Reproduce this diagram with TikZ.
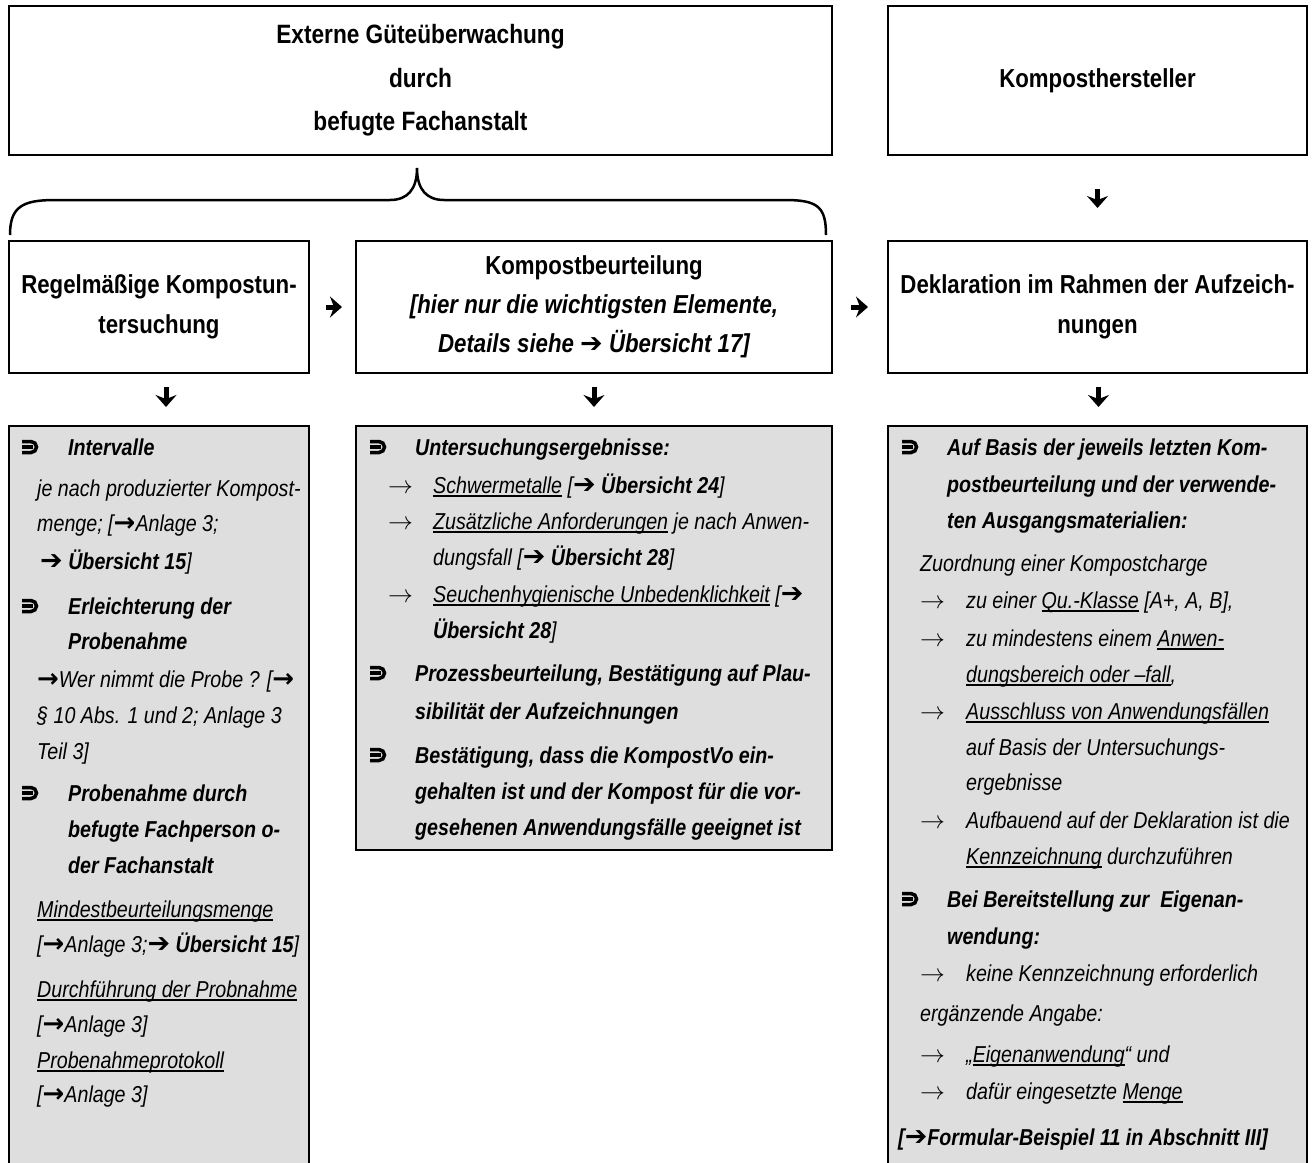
\documentclass[tikz,border=0pt]{standalone}
\usepackage{fontspec}
\setmainfont{Liberation Sans}[FakeStretch=0.855]
\newfontfamily\dv{DejaVu Sans}
\usetikzlibrary{arrows.meta}
\definecolor{listgray}{RGB}{222,222,222}
\newcommand\undl[1]{\setbox0\hbox{#1}\rlap{\rule[-3.5pt]{\wd0}{1.5pt}}\box0\relax}
\newcommand\harr{{\dv\fontsize{27}{27}\selectfont ➔}}
\newcommand\marr{{\dv\bfseries\fontsize{26}{26}\selectfont →}}
\newcommand\hfnt{\fontsize{26}{40}\selectfont\bfseries}
\newcommand\bfnt{\fontsize{23}{36}\selectfont}
\tikzset{
  box/.style={draw, line width=2pt, rectangle, inner sep=0pt, anchor=north west, align=center, font=\hfnt},
  listbox/.style={draw, line width=2pt, fill=listgray, rectangle, inner sep=0pt, anchor=north west},
  tl/.style={anchor=base west, inner sep=0pt, font=\bfnt\itshape},
  tlb/.style={anchor=base west, inner sep=0pt, font=\bfnt\bfseries\itshape},
  flow/.style={line width=5pt, -{Stealth[length=12pt,width=21pt,inset=4pt]}},
  bracepath/.style={line width=2.5pt},
  bul/.pic={
    \draw[line width=3.5pt] (-8,-5.5) -- (1,-5.5) arc(-90:90:5.5) -- (-8,5.5);
    \draw[line width=3.3pt] (-8,0) -- (3,0);
  }
}
\begin{document}
\begin{tikzpicture}[x=1pt,y=-1pt]
\useasboundingbox (0,0) rectangle (1314,1162);
\clip (0,0) rectangle (1314,1162);
% top boxes
\node[box, minimum width=823pt, minimum height=149pt, font=\fontsize{26.5}{43.5}\selectfont\bfseries] (ext) at (8,5)
  {Externe Güteüberwachung\\durch\\befugte Fachanstalt};
\node[box, minimum width=419pt, minimum height=149pt] (herst) at (887,5) {Komposthersteller};
% brace
\draw[bracepath] (10,235) .. controls (10,207) and (22,200) .. (55,200) -- (390,200)
  .. controls (407,200) and (417,190) .. (417,168)
  .. controls (417,190) and (427,200) .. (444,200) -- (785,200)
  .. controls (818,200) and (826,207) .. (826,235);
% second row
\node[box, minimum width=300pt, minimum height=132pt] (reg) at (8,240)
  {Regelmäßige Kompostun-\\tersuchung};
\node[box, minimum width=476pt, minimum height=132pt, font=\fontsize{26}{39}\selectfont\bfseries] (beurt) at (355,240)
  {Kompostbeurteilung\\{\itshape [hier nur die wichtigsten Elemente,}\\{\itshape Details siehe \harr\ Übersicht 17]}};
\node[box, minimum width=419pt, minimum height=132pt] (dekl) at (887,240)
  {Deklaration im Rahmen der Aufzeich-\\nungen};
% list boxes
\node[listbox, minimum width=300pt, minimum height=760pt] (l1) at (8,425) {};
\node[listbox, minimum width=476pt, minimum height=424pt] (l2) at (355,425) {};
\node[listbox, minimum width=419pt, minimum height=760pt] (l3) at (887,425) {};
% connectors
\draw[flow, shorten <=33pt, shorten >=32pt] (herst) -- (dekl);
\draw[flow, shorten <=16pt, shorten >=13pt] (reg) -- (beurt);
\draw[flow, shorten <=18pt, shorten >=19pt] (beurt) -- (dekl);
\draw[flow, shorten <=13pt, shorten >=18pt] ([xshift=7pt]reg.south) -- ([xshift=7pt]l1.north);
\draw[flow, shorten <=13pt, shorten >=18pt] (beurt.south) -- (l2.north);
\draw[flow, shorten <=13pt, shorten >=18pt] ([xshift=1pt]dekl.south) -- ([xshift=1pt]l3.north);
% left list
\pic at (30,447) {bul};
\node[tlb] (a1) at (68,455) {Intervalle};
\node[tl] (a2) at (37,496) {je nach produzierter Kompost-};
\node[tl] (a3) at (37,531) {menge; [\marr Anlage 3;};
\node[tl] (a4) at (40,569) {\harr\ {\bfseries Übersicht 15}]};
\pic at (30,606) {bul};
\node[tlb] (a5) at (68,614) {Erleichterung der};
\node[tlb] (a6) at (68,649) {Probenahme};
\node[tl] (a7) at (37,687) {\marr Wer nimmt die Probe ? [\marr};
\node[tl] (a8) at (37,723) {§ 10 Abs. 1 und 2; Anlage 3};
\node[tl] (a9) at (37,759) {Teil 3]};
\pic at (30,793) {bul};
\node[tlb] (a10) at (68,801) {Probenahme durch};
\node[tlb] (a11) at (68,837) {befugte Fachperson o-};
\node[tlb] (a12) at (68,873) {der Fachanstalt};
\node[tl] (a13) at (37,917) {\undl{Mindestbeurteilungsmenge}};
\node[tl] (a14) at (37,952) {[\marr Anlage 3;\harr\ {\bfseries Übersicht 15}]};
\node[tl] (a15) at (37,997) {\undl{Durchführung der Probnahme}};
\node[tl] (a16) at (37,1032) {[\marr Anlage 3]};
\node[tl] (a17) at (37,1068) {\undl{Probenahmeprotokoll}};
\node[tl] (a18) at (37,1102) {[\marr Anlage 3]};
% middle list
\pic at (378,447) {bul};
\node[tlb] (b1) at (415,455) {Untersuchungsergebnisse:};
\node[tl] (b2a) at (388,493) {$\rightarrow$};
\node[tl] (b2) at (433,493) {\undl{Schwermetalle} [\harr\ {\bfseries Übersicht 24}]};
\node[tl] (b3a) at (388,529) {$\rightarrow$};
\node[tl] (b3) at (433,529) {\undl{Zusätzliche Anforderungen} je nach Anwen-};
\node[tl] (b4) at (433,565) {dungsfall [\harr\ {\bfseries Übersicht 28}]};
\node[tl] (b5a) at (388,602) {$\rightarrow$};
\node[tl] (b5) at (433,602) {\undl{Seuchenhygienische Unbedenklichkeit} [\harr};
\node[tl] (b6) at (433,638) {{\bfseries Übersicht 28}]};
\pic at (378,673) {bul};
\node[tlb] (b7) at (415,681) {Prozessbeurteilung, Bestätigung auf Plau-};
\node[tlb] (b8) at (415,719) {sibilität der Aufzeichnungen};
\pic at (378,755) {bul};
\node[tlb] (b9) at (415,763) {Bestätigung, dass die KompostVo ein-};
\node[tlb] (b10) at (415,799) {gehalten ist und der Kompost für die vor-};
\node[tlb] (b11) at (415,835) {gesehenen Anwendungsfälle geeignet ist};
% right list
\pic at (910,447) {bul};
\node[tlb] (c1) at (947,455) {Auf Basis der jeweils letzten Kom-};
\node[tlb] (c2) at (947,492) {postbeurteilung und der verwende-};
\node[tlb] (c3) at (947,528) {ten Ausgangsmaterialien:};
\node[tl] (c4) at (920,571) {Zuordnung einer Kompostcharge};
\node[tl] (c5a) at (920,608) {$\rightarrow$};
\node[tl] (c5) at (966,608) {zu einer \undl{Qu.-Klasse} [A+, A, B],};
\node[tl] (c6a) at (920,646) {$\rightarrow$};
\node[tl] (c6) at (966,646) {zu mindestens einem \undl{Anwen-}};
\node[tl] (c7) at (966,682) {\undl{dungsbereich oder –fall},};
\node[tl] (c8a) at (920,719) {$\rightarrow$};
\node[tl] (c8) at (966,719) {\undl{Ausschluss von Anwendungsfällen}};
\node[tl] (c9) at (966,755) {auf Basis der Untersuchungs-};
\node[tl] (c10) at (966,790) {ergebnisse};
\node[tl] (c11a) at (920,828) {$\rightarrow$};
\node[tl] (c11) at (966,828) {Aufbauend auf der Deklaration ist die};
\node[tl] (c12) at (966,864) {\undl{Kennzeichnung} durchzuführen};
\pic at (910,899) {bul};
\node[tlb] (c13) at (947,907) {Bei Bereitstellung zur \ Eigenan-};
\node[tlb] (c14) at (947,944) {wendung:};
\node[tl] (c15a) at (920,981) {$\rightarrow$};
\node[tl] (c15) at (966,981) {keine Kennzeichnung erforderlich};
\node[tl] (c16) at (920,1021) {ergänzende Angabe:};
\node[tl] (c17a) at (920,1062) {$\rightarrow$};
\node[tl] (c17) at (966,1062) {„\undl{Eigenanwendung}“ und};
\node[tl] (c18a) at (920,1099) {$\rightarrow$};
\node[tl] (c18) at (966,1099) {dafür eingesetzte \undl{Menge}};
\node[tlb] (c19) at (898,1145) {[\harr Formular-Beispiel 11 in Abschnitt III]};
\end{tikzpicture}
\end{document}
